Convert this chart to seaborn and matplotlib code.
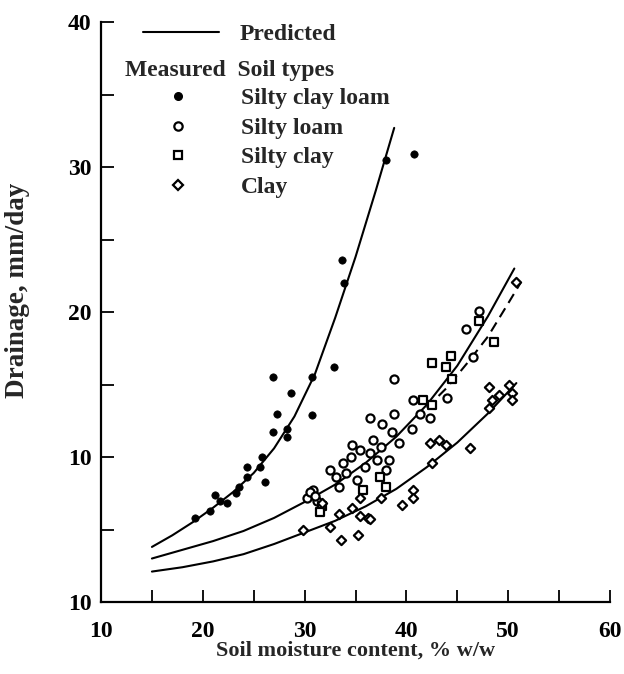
import matplotlib
matplotlib.use("Agg")
import matplotlib.pyplot as plt
from matplotlib.lines import Line2D
from matplotlib.ticker import MultipleLocator
import seaborn as sns
import pandas as pd

# ---------------- data ----------------
# Predicted curves
curve_scl_x = [15, 17, 19, 21, 23, 25, 27, 29, 31, 33, 35, 37, 38.8]
curve_scl_y = [3.8, 4.6, 5.5, 6.5, 7.6, 8.9, 10.6, 12.8, 15.7, 19.6, 23.8, 28.4, 32.7]

curve_mid_x = [15, 18, 21, 24, 27, 30, 33, 36, 39, 42, 45, 48, 50.6]
curve_mid_y = [3.0, 3.6, 4.2, 4.9, 5.8, 6.9, 8.1, 9.6, 11.4, 13.6, 16.3, 19.7, 23.0]

curve_dash_x = [42, 44, 46, 48, 50, 51.2]
curve_dash_y = [13.4, 14.8, 16.5, 18.3, 20.6, 22.0]

curve_clay_x = [15, 18, 21, 24, 27, 30, 33, 36, 39, 42, 45, 48, 50.8]
curve_clay_y = [2.1, 2.4, 2.8, 3.3, 4.0, 4.8, 5.6, 6.6, 7.8, 9.3, 11.0, 13.0, 15.1]

# Measured points
scl_x = [19.2, 20.7, 21.2, 21.7, 22.4, 23.3, 23.6, 24.3, 24.3, 25.6, 25.8, 26.1,
         26.9, 26.9, 27.3, 28.3, 28.3, 28.7, 30.7, 30.7, 32.9, 33.7, 33.9, 38.0, 40.7]
scl_y = [5.8, 6.3, 7.4, 7.0, 6.8, 7.5, 7.9, 9.3, 8.6, 9.3, 10.0, 8.3,
         15.5, 11.7, 13.0, 11.9, 11.4, 14.4, 12.9, 15.5, 16.2, 23.6, 22.0, 30.5, 30.9]

sl_x = [36.4, 38.8, 38.8, 37.6, 38.6, 36.7, 39.3, 34.7, 35.4, 36.4, 37.5, 34.6,
        37.1, 38.3, 38.0, 32.5, 33.1, 34.1, 33.4, 35.1, 30.8, 30.2, 31.2, 40.6,
        41.3, 40.5, 44.0, 45.9, 47.1, 46.5, 42.3, 30.5, 31.0, 33.8, 35.9]
sl_y = [12.7, 15.4, 13.0, 12.3, 11.7, 11.2, 11.0, 10.8, 10.5, 10.3, 10.7, 10.0,
        9.8, 9.8, 9.1, 9.1, 8.6, 8.9, 7.9, 8.4, 7.7, 7.2, 7.0, 13.9,
        13.0, 11.9, 14.1, 18.8, 20.1, 16.9, 12.7, 7.6, 7.3, 9.6, 9.3]

sc_x = [42.5, 44.4, 43.9, 44.5, 48.6, 47.1, 41.6, 42.5, 31.7, 31.5, 37.4, 35.7, 38.0]
sc_y = [16.5, 17.0, 16.2, 15.4, 17.9, 19.4, 13.9, 13.6, 6.6, 6.2, 8.6, 7.7, 7.9]

clay_x = [50.8, 35.4, 34.7, 35.4, 36.2, 33.4, 32.5, 33.6, 35.2, 37.5, 39.6, 40.6,
          40.6, 42.3, 43.2, 43.9, 46.2, 42.5, 48.1, 49.1, 50.4, 50.1, 50.4, 48.4,
          48.1, 29.8, 36.4, 31.7]
clay_y = [22.1, 7.2, 6.5, 5.9, 5.8, 6.1, 5.2, 4.3, 4.6, 7.2, 6.7, 7.7,
          7.2, 11.0, 11.2, 10.8, 10.6, 9.6, 14.8, 14.3, 14.4, 15.0, 13.9, 13.9,
          13.4, 5.0, 5.7, 6.8]

soil_types = ["Silty clay loam", "Silty loam", "Silty clay", "Clay"]
x_ticks = [10, 20, 30, 40, 50, 60]
y_ticks = [0, 10, 20, 30, 40]
y_tick_labels = ["10", "10", "20", "30", "40"]

# ---------------- style ----------------
sns.set_style("ticks")
plt.rcParams["font.family"] = ["Liberation Serif", "DejaVu Serif"]
plt.rcParams["font.weight"] = "bold"

fig = plt.figure(figsize=(6.24, 6.74), dpi=100)
ax = fig.add_axes([0.1619, 0.1068, 0.8157, 0.8605])

line_kw = dict(color="black", linewidth=1.5, legend=False, sort=False, estimator=None, ax=ax)
sns.lineplot(x=curve_scl_x, y=curve_scl_y, **line_kw)
sns.lineplot(x=curve_mid_x, y=curve_mid_y, **line_kw)
sns.lineplot(x=curve_clay_x, y=curve_clay_y, **line_kw)
sns.lineplot(x=curve_dash_x, y=curve_dash_y, linestyle=(0, (5, 3)), **line_kw)

open_kw = dict(color="white", edgecolor="black", linewidth=1.6, ax=ax, legend=False, zorder=3)
sns.scatterplot(x=sl_x, y=sl_y, marker="o", s=34, **open_kw)
sns.scatterplot(x=sc_x, y=sc_y, marker="s", s=30, **open_kw)
sns.scatterplot(x=clay_x, y=clay_y, marker="D", s=22, **open_kw)
sns.scatterplot(x=scl_x, y=scl_y, marker="o", s=28, color="black", edgecolor="black",
                linewidth=0.5, ax=ax, legend=False, zorder=3)

ax.set_xlim(10, 60)
ax.set_ylim(0, 40)
ax.set_xticks(x_ticks)
ax.set_yticks(y_ticks)
ax.set_yticklabels(y_tick_labels)
ax.xaxis.set_minor_locator(MultipleLocator(5))
ax.yaxis.set_minor_locator(MultipleLocator(5))
ax.tick_params(which="both", direction="in", length=9, width=1.3, colors="black",
               labelsize=17)
ax.tick_params(axis="x", which="both", pad=14)
ax.tick_params(axis="y", which="both", pad=7)
for lab in ax.get_xticklabels() + ax.get_yticklabels():
    lab.set_fontweight("bold")
sns.despine(ax=ax)
for sp in ("left", "bottom"):
    ax.spines[sp].set_linewidth(1.6)
    ax.spines[sp].set_color("black")

ax.set_xlabel("Soil moisture content, % w/w", fontsize=16, fontweight="bold", labelpad=-1)
ax.set_ylabel("Drainage, mm/day", fontsize=19.5, fontweight="bold")
ax.yaxis.set_label_coords(-0.139, 0.538)

# ---------------- legends ----------------
h_pred = [Line2D([], [], color="black", linewidth=1.5)]
leg1 = ax.legend(h_pred, ["Predicted"], loc="upper left", bbox_to_anchor=(0.0825, 0.997),
                 frameon=False, borderpad=0, borderaxespad=0, handlelength=3.2,
                 handletextpad=0.9, prop=dict(size=17, weight="bold"))
ax.add_artist(leg1)

h_meas = [
    Line2D([], [], linestyle="none", marker="o", markersize=5.5, markerfacecolor="black",
           markeredgecolor="black"),
    Line2D([], [], linestyle="none", marker="o", markersize=6, markerfacecolor="white",
           markeredgecolor="black", markeredgewidth=1.6),
    Line2D([], [], linestyle="none", marker="s", markersize=6, markerfacecolor="white",
           markeredgecolor="black", markeredgewidth=1.6),
    Line2D([], [], linestyle="none", marker="D", markersize=5, markerfacecolor="white",
           markeredgecolor="black", markeredgewidth=1.6),
]
leg2 = ax.legend(h_meas, soil_types, loc="upper left", bbox_to_anchor=(0.047, 0.935),
                 frameon=False, borderpad=0, borderaxespad=0, handlelength=4.5,
                 handletextpad=0.4, labelspacing=0.34, title="Measured  Soil types",
                 alignment="left", prop=dict(size=17, weight="bold"),
                 title_fontproperties=dict(size=17, weight="bold"))
leg2._legend_box.sep = 5

fig.savefig("out.png", dpi=100)
